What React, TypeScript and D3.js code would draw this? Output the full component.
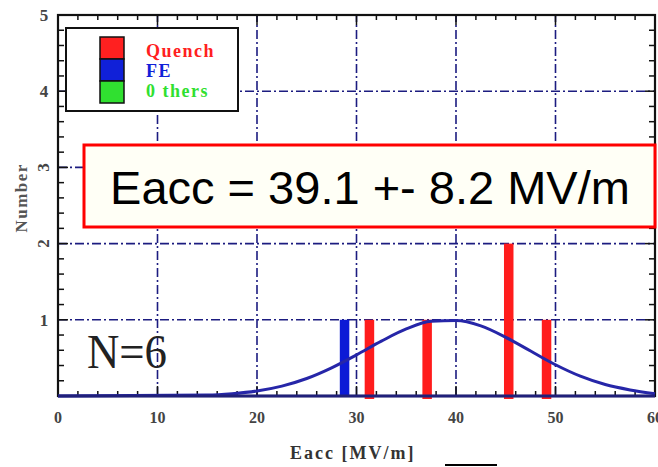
import React from "react"
import * as d3 from "d3"

// histogram entries (Eacc position, count)
const quenchX = [31.3, 37.1, 45.3, 49.1]
const quenchN = [1, 1, 2, 1]
const feX = [28.8]
const feN = [1]

// fitted curve
const curveX = [0, 15, 17.5, 20, 22.5, 25, 27.5, 30, 32.5, 35, 37.5, 40, 42.5, 45, 47.5, 50, 52.5, 55, 57.5, 60]
const curveY = [0, 0.013, 0.031, 0.066, 0.13, 0.23, 0.37, 0.54, 0.72, 0.88, 0.98, 0.99, 0.92, 0.77, 0.59, 0.41, 0.26, 0.15, 0.08, 0.03]

const xTicks = [0, 10, 20, 30, 40, 50, 60]
const yTicks = [1, 2, 3, 4, 5]
const legendLabels = ["Quench", "FE", "0 thers"]
const legendColors = ["#ff2020", "#1020d8", "#30e030"]

const W = 658, H = 467
const margin = {top: 15, right: 3, bottom: 71, left: 58}

export default function App() {
    const x = d3.scaleLinear().domain([0, 60]).range([margin.left, W - margin.right])
    const y = d3.scaleLinear().domain([0, 5]).range([H - margin.bottom, margin.top])
    const grid = "#1c1c80"
    const dash = "9,3,2,3"
    const barW = 9.5

    const line = d3.line<number>()
        .x((d, i) => x(curveX[i]))
        .y(d => y(d))
        .curve(d3.curveMonotoneX)

    const xMinor = d3.range(0, 61, 2)
    const yMinor = d3.range(0, 5.01, 0.2)

    return (
        <div style={{position: "fixed", left: 0, top: 0}}>
            <svg width={W} height={H} style={{display: "block", background: "#fff"}}>
                {/* grid */}
                {xTicks.slice(1, -1).map(t => (
                    <line key={"gx" + t} x1={x(t)} x2={x(t)} y1={y(0)} y2={y(5)}
                        stroke={grid} strokeWidth={1.6} strokeDasharray={dash} />
                ))}
                {yTicks.slice(0, -1).map(t => (
                    <line key={"gy" + t} x1={x(0)} x2={x(60)} y1={y(t)} y2={y(t)}
                        stroke={grid} strokeWidth={1.6} strokeDasharray={dash} />
                ))}

                {/* minor ticks */}
                {xMinor.map(t => (
                    <g key={"mx" + t}>
                        <line x1={x(t)} x2={x(t)} y1={y(0)} y2={y(0) - (t % 10 === 0 ? 10 : 5)} stroke="#111" strokeWidth={1.5} />
                        <line x1={x(t)} x2={x(t)} y1={y(5)} y2={y(5) + (t % 10 === 0 ? 10 : 5)} stroke="#111" strokeWidth={1.5} />
                    </g>
                ))}
                {yMinor.map((t, i) => (
                    <g key={"my" + i}>
                        <line x1={x(0)} x2={x(0) + (i % 5 === 0 ? 10 : 6)} y1={y(t)} y2={y(t)} stroke="#111" strokeWidth={1.5} />
                        <line x1={x(60)} x2={x(60) - (i % 5 === 0 ? 10 : 6)} y1={y(t)} y2={y(t)} stroke="#111" strokeWidth={1.5} />
                    </g>
                ))}

                {/* frame */}
                <rect x={x(0)} y={y(5)} width={x(60) - x(0)} height={y(0) - y(5)}
                    fill="none" stroke="#111" strokeWidth={2.2} />

                {/* bars */}
                {feX.map((v, i) => (
                    <rect key={"fe" + i} x={x(v) - barW / 2} y={y(feN[i])} width={barW}
                        height={y(0) - y(feN[i])} fill="#0c1ad6" />
                ))}
                {quenchX.map((v, i) => (
                    <rect key={"q" + i} x={x(v) - barW / 2} y={y(quenchN[i])} width={barW}
                        height={y(0) - y(quenchN[i]) + 3} fill="#ff1c1c" />
                ))}

                {/* fitted curve */}
                <path d={line(curveY) || ""} fill="none" stroke="#2626a8" strokeWidth={3} />
                <line x1={x(0)} x2={x(60)} y1={y(0)} y2={y(0)} stroke="#20207a" strokeWidth={3} />

                {/* tick labels */}
                {xTicks.map(t => (
                    <text key={"tx" + t} x={x(t)} y={y(0) + 27} textAnchor="middle"
                        fontFamily="Liberation Serif" fontWeight="bold" fontSize={16} fill="#444">{t}</text>
                ))}
                {yTicks.map(t => (
                    (t === 2 || t === 3) ? (
                        <text key={"ty" + t} transform={`translate(49,${y(t)}) rotate(-90)`} textAnchor="middle"
                            fontFamily="Liberation Serif" fontWeight="bold" fontSize={17} fill="#444">{t}</text>
                    ) : (
                        <text key={"ty" + t} x={44} y={y(t) + 6} textAnchor="middle"
                            fontFamily="Liberation Serif" fontWeight="bold" fontSize={17} fill="#444">{t}</text>
                    )
                ))}

                {/* axis titles */}
                <text transform={`translate(27,${y(2.6)}) rotate(-90)`} textAnchor="middle"
                    fontFamily="Liberation Serif" fontWeight="bold" fontSize={17} letterSpacing={1.5} fill="#555">Number</text>
                <text x={290} y={459} fontFamily="Liberation Serif" fontWeight="bold" fontSize={18}
                    letterSpacing={2} fill="#333">Eacc [MV/m]</text>
                <line x1={445} x2={497} y1={465} y2={465} stroke="#000" strokeWidth={2} />

                {/* legend */}
                <rect x={66} y={28} width={172} height={83} fill="#fff" stroke="#111" strokeWidth={2} />
                {legendLabels.map((l, i) => (
                    <g key={l}>
                        <rect x={100} y={37 + i * 22} width={24} height={22} fill={legendColors[i]}
                            stroke="#111" strokeWidth={1.5} />
                        <text x={146} y={57 + i * 20} fontFamily="Liberation Serif" fontWeight="bold"
                            fontSize={18} letterSpacing={1.5} fill={legendColors[i]}>{l}</text>
                    </g>
                ))}

                {/* annotation */}
                <rect x={84} y={145} width={571} height={82} fill="#fffff6" stroke="#ff0000" strokeWidth={3} />
                <text x={370} y={204} textAnchor="middle" fontFamily="Liberation Sans, Arial"
                    fontSize={47} fill="#000">Eacc = 39.1 +- 8.2 MV/m</text>

                <text x={87} y={368} fontFamily="Liberation Serif" fontSize={48}
                    textLength={80} lengthAdjust="spacingAndGlyphs" fill="#222">N=6</text>
            </svg>
        </div>
    )
}
